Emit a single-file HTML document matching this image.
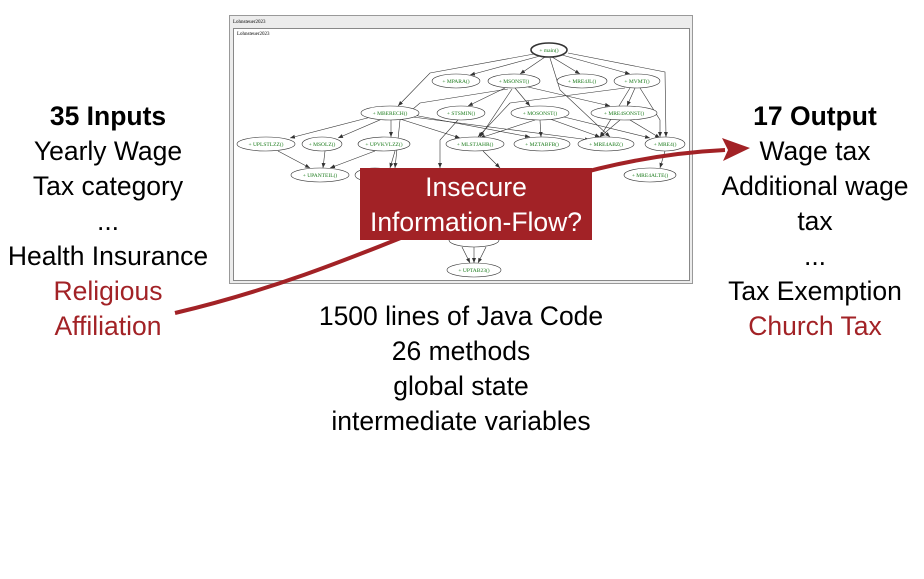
<!DOCTYPE html>
<html><head><meta charset="utf-8"><style>
html,body{margin:0;padding:0;background:#fff;}
svg{display:block;}
.t{font-family:"Liberation Sans",sans-serif;font-size:26.5px;text-anchor:middle;fill:#000;}
.r{fill:#a22226;}
.n{font-family:"Liberation Serif",serif;font-size:5.5px;fill:#1a7a1a;text-anchor:middle;}
</style></head><body>
<svg width="924" height="579" viewBox="0 0 924 579" xmlns="http://www.w3.org/2000/svg">
<defs><marker id="a" markerWidth="6" markerHeight="6" refX="5" refY="3" orient="auto" markerUnits="userSpaceOnUse"><path d="M0,1 L5,3 L0,5Z" fill="#333"/></marker></defs>
<rect x="229.5" y="15.5" width="463" height="268" fill="#ececec" stroke="#999"/>
<rect x="233.5" y="28.5" width="456" height="252" fill="#fff" stroke="#888"/>
<text x="233" y="23" font-family="Liberation Serif" font-size="5">Lohnsteuer2023</text>
<text x="237" y="35" font-family="Liberation Serif" font-size="5">Lohnsteuer2023</text>
<g stroke="#333" stroke-width="0.6" fill="none" marker-end="url(#a)">
<path d="M534,54 L430,73 L398,106"/><path d="M540,56 L470,75"/><path d="M545,57 L520,74"/>
<path d="M552,57 L580,74"/><path d="M562,55 L630,74"/><path d="M568,53 L665,72 L666,137"/>
<path d="M550,58 L560,90 L610,137"/>
<path d="M505,88 L468,106"/><path d="M515,88 L530,106"/><path d="M528,87 L610,106"/>
<path d="M508,89 L420,103 L400,120 L395,168"/><path d="M512,89 L480,137"/>
<path d="M630,88 L600,137"/><path d="M635,88 L627,106"/><path d="M640,88 L660,120 L660,137"/>
<path d="M625,88 L510,103 L478,137"/>
<path d="M375,116 L290,138"/><path d="M382,119 L338,138"/><path d="M391,120 L391,137"/>
<path d="M400,119 L460,138"/><path d="M405,116 L590,140"/><path d="M408,114 L530,137"/>
<path d="M535,120 L480,138"/><path d="M540,120 L541,137"/><path d="M550,119 L600,137"/>
<path d="M620,120 L600,137"/><path d="M630,120 L660,138"/><path d="M560,116 L650,138"/>
<path d="M458,120 L440,140 L440,168"/>
<path d="M278,151 L310,168"/><path d="M325,151 L323,168"/><path d="M375,151 L330,168"/>
<path d="M395,151 L390,168"/><path d="M483,151 L500,168"/><path d="M665,151 L660,168"/>
<path d="M462,247 L470,263"/><path d="M474,247 L474,263"/><path d="M486,247 L478,263"/>
</g>
<g fill="#fff" stroke="#333" stroke-width="0.6">
<ellipse cx="549" cy="50" rx="18" ry="7" stroke-width="1.6"/>
<ellipse cx="456" cy="81" rx="24" ry="7"/><ellipse cx="514" cy="81" rx="26" ry="7"/>
<ellipse cx="582" cy="81" rx="25" ry="7"/><ellipse cx="637" cy="81" rx="23" ry="7"/>
<ellipse cx="390" cy="113" rx="29" ry="7"/><ellipse cx="461" cy="113" rx="24" ry="7"/>
<ellipse cx="540" cy="113" rx="29" ry="7"/><ellipse cx="624" cy="113" rx="33" ry="7"/>
<ellipse cx="266" cy="144" rx="29" ry="7"/><ellipse cx="322" cy="144" rx="20" ry="7"/>
<ellipse cx="384" cy="144" rx="26" ry="7"/><ellipse cx="475" cy="144" rx="29" ry="7"/>
<ellipse cx="542" cy="144" rx="28" ry="7"/><ellipse cx="606" cy="144" rx="28" ry="7"/>
<ellipse cx="665" cy="144" rx="20" ry="7"/><ellipse cx="320" cy="175" rx="29" ry="7"/>
<ellipse cx="375" cy="175" rx="20" ry="7"/><ellipse cx="650" cy="175" rx="26" ry="7"/>
<ellipse cx="474" cy="240" rx="25" ry="7"/><ellipse cx="474" cy="270" rx="27" ry="7"/>
</g>
<g class="n">
<text x="549" y="52">+ main()</text><text x="456" y="83">+ MPARA()</text><text x="514" y="83">+ MSONST()</text>
<text x="582" y="83">+ MRE4JL()</text><text x="637" y="83">+ MVMT()</text>
<text x="390" y="115">+ MBERECH()</text><text x="461" y="115">+ STSMIN()</text>
<text x="540" y="115">+ MOSONST()</text><text x="624" y="115">+ MRE4SONST()</text>
<text x="266" y="146">+ UPLSTLZZ()</text><text x="322" y="146">+ MSOLZ()</text>
<text x="384" y="146">+ UPVKVLZZ()</text><text x="475" y="146">+ MLSTJAHR()</text>
<text x="542" y="146">+ MZTABFB()</text><text x="606" y="146">+ MRE4ABZ()</text>
<text x="665" y="146">+ MRE4()</text><text x="320" y="177">+ UPANTEIL()</text>
<text x="650" y="177">+ MRE4ALTE()</text><text x="474" y="272">+ UPTAB23()</text>
</g>
<path d="M175,313 C400,260 520,160 725,150" fill="none" stroke="#a22226" stroke-width="4"/>
<path d="M750,148 L722,138 L728,150 L723,161Z" fill="#a22226"/>
<rect x="360" y="168" width="232" height="72" fill="#a22226"/>
<text class="t" x="476" y="196" style="fill:#fff">Insecure</text>
<text class="t" x="476" y="231" style="fill:#fff">Information-Flow?</text>
<text class="t" x="108" y="125" font-weight="bold">35 Inputs</text>
<text class="t" x="108" y="160">Yearly Wage</text>
<text class="t" x="108" y="195">Tax category</text>
<text class="t" x="108" y="230">...</text>
<text class="t" x="108" y="265">Health Insurance</text>
<text class="t r" x="108" y="300">Religious</text>
<text class="t r" x="108" y="335">Affiliation</text>
<text class="t" x="815" y="125" font-weight="bold">17 Output</text>
<text class="t" x="815" y="160">Wage tax</text>
<text class="t" x="815" y="195">Additional wage</text>
<text class="t" x="815" y="230">tax</text>
<text class="t" x="815" y="265">...</text>
<text class="t" x="815" y="300">Tax Exemption</text>
<text class="t r" x="815" y="335">Church Tax</text>
<text class="t" x="461" y="325">1500 lines of Java Code</text>
<text class="t" x="461" y="360">26 methods</text>
<text class="t" x="461" y="395">global state</text>
<text class="t" x="461" y="430">intermediate variables</text>
</svg>
</body></html>
